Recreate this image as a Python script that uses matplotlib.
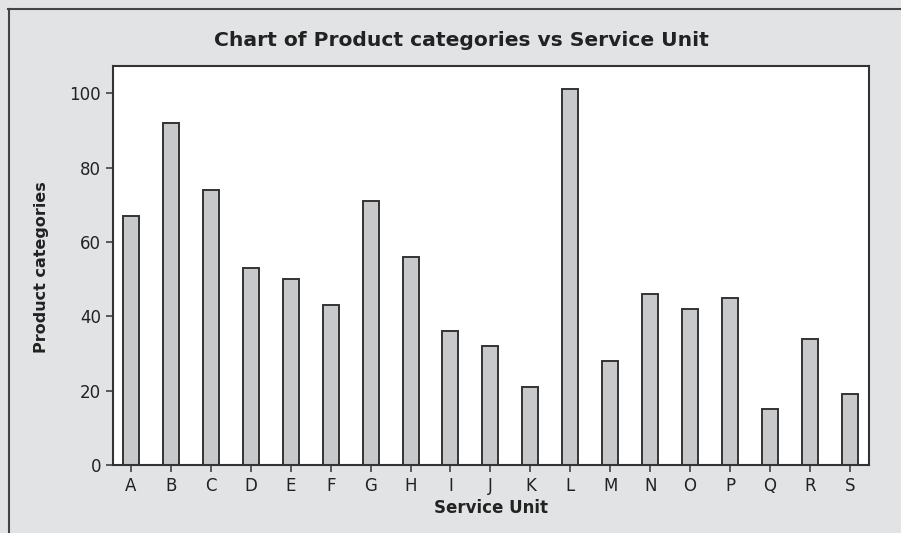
import matplotlib
matplotlib.use("Agg")
import matplotlib.pyplot as plt
from matplotlib.lines import Line2D

categories = ["A", "B", "C", "D", "E", "F", "G", "H", "I", "J",
              "K", "L", "M", "N", "O", "P", "Q", "R", "S"]
values = [67, 92, 74, 53, 50, 43, 71, 56, 36, 32,
          21, 101, 28, 46, 42, 45, 15, 34, 19]
yticks = [0, 20, 40, 60, 80, 100]

plt.rcParams['font.family'] = ['DejaVu Sans']

fig = plt.figure(figsize=(9.01, 5.33), dpi=100)
fig.patch.set_facecolor('#e2e3e5')
# outer frame (top and left visible)
fig.add_artist(Line2D([8/901, 1.0], [1-8.5/533, 1-8.5/533], color='#444444', lw=1.5, transform=fig.transFigure))
fig.add_artist(Line2D([8.5/901, 8.5/901], [0, 1-8.5/533], color='#444444', lw=1.5, transform=fig.transFigure))

ax = fig.add_axes([113/901, 1-465/533, (869-113)/901, (465-66)/533])
ax.set_facecolor('white')
x = list(range(len(categories)))
ax.bar(x, values, width=0.4, color='#c8c9cb', edgecolor='#333333', linewidth=1.4)
ax.set_xlim(-0.45, 18.48)
ax.set_ylim(0, 107.3)
ax.set_xticks(x)
ax.set_xticklabels(categories, fontsize=12, color='#222222')
ax.set_yticks(yticks)
ax.set_yticklabels([str(v) for v in yticks], fontsize=12, color='#222222')
ax.tick_params(direction='out', length=5, width=1.1, color='#333333')
for s in ax.spines.values():
    s.set_color('#333333')
    s.set_linewidth(1.5)

fig.text(461/901, 1-40/533, "Chart of Product categories vs Service Unit",
         ha='center', va='center', fontsize=14.6, fontweight='bold', color='#222222')
fig.text(491/901, 1-508/533, "Service Unit", ha='center', va='center',
         fontsize=12, fontweight='bold', color='#222222')
fig.text(42/901, 1-267/533, "Product categories", ha='center', va='center',
         rotation=90, fontsize=11.5, fontweight='bold', color='#222222')

fig.savefig("out.png", dpi=100, facecolor=fig.get_facecolor())
